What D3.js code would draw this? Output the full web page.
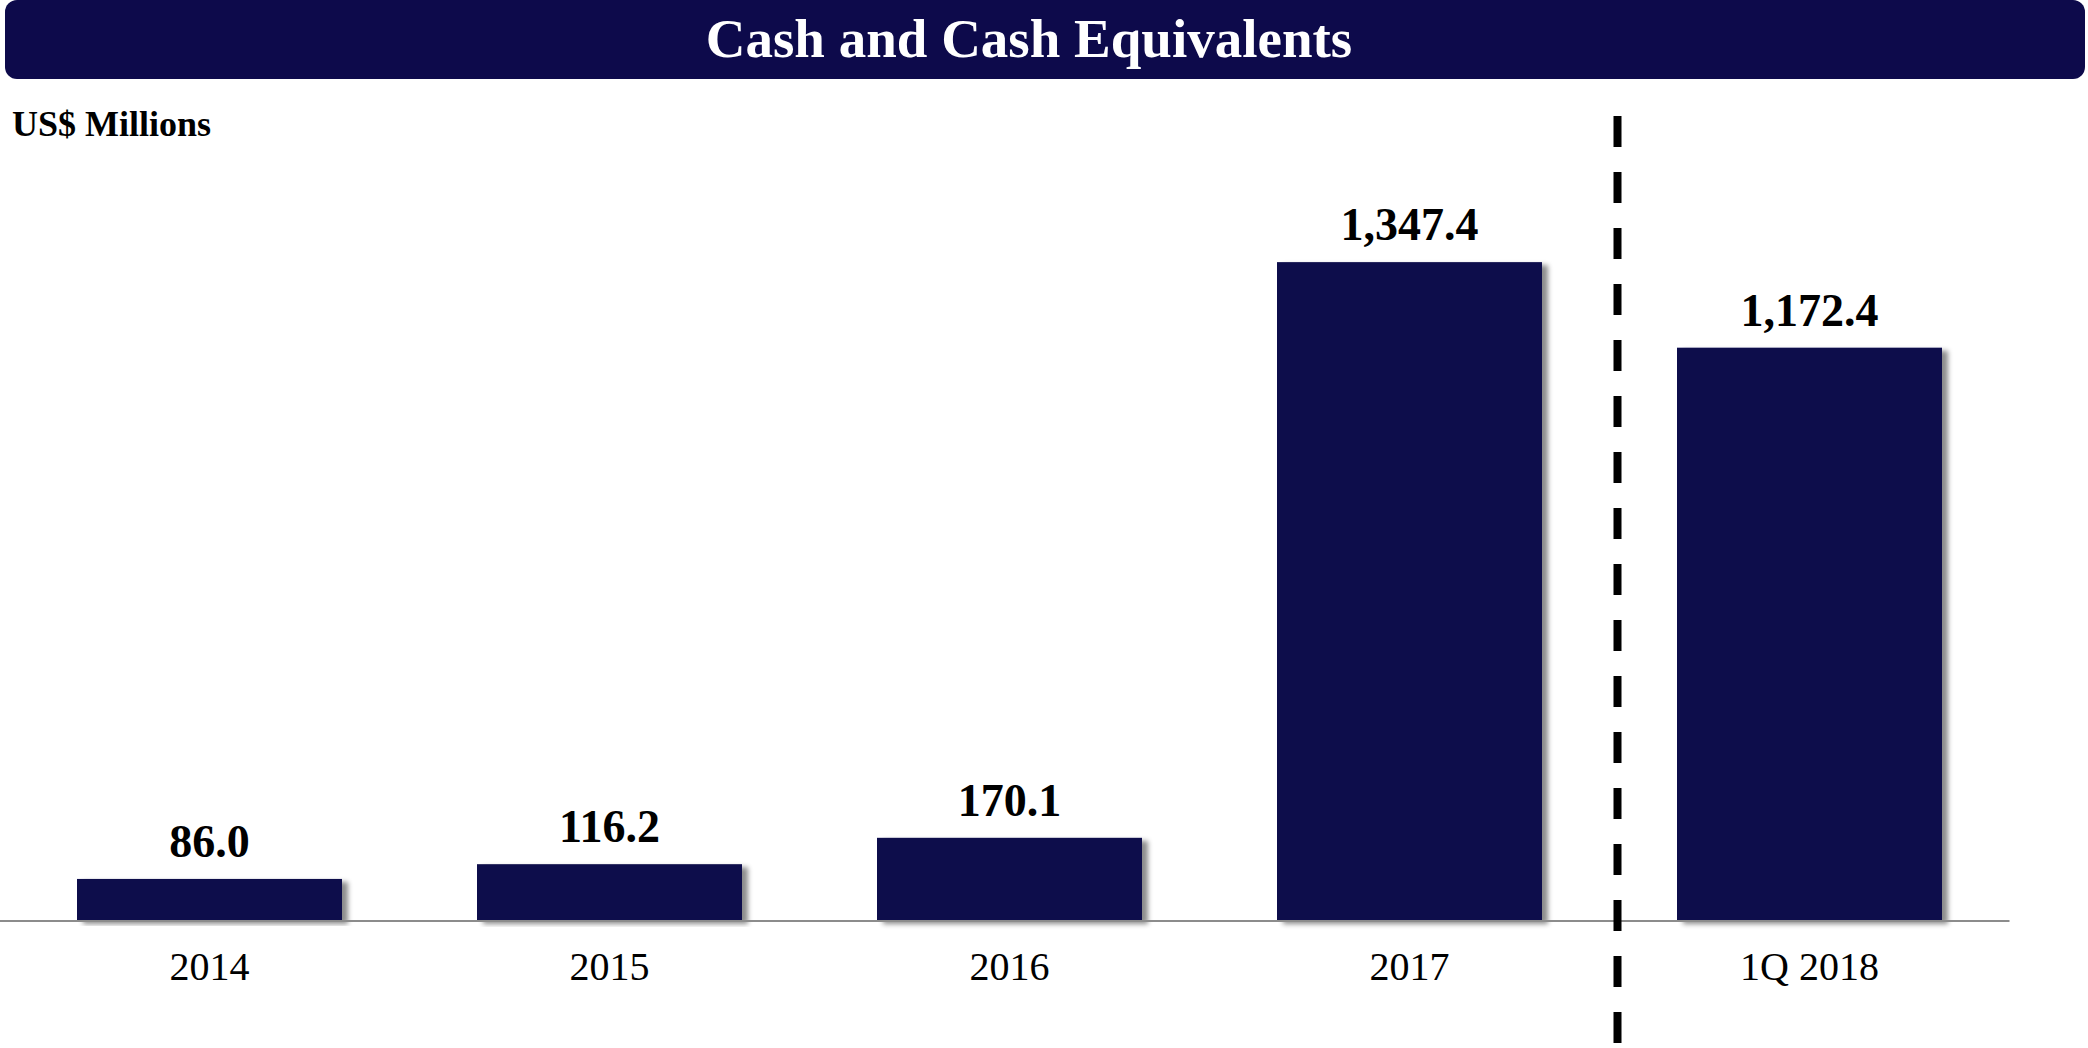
<!DOCTYPE html>
<html>
<head>
<meta charset="utf-8">
<script src="https://cdn.jsdelivr.net/npm/d3@7"></script>
<style>
  html, body { margin: 0; padding: 0; background: #fff; }
  svg { display: block; }
</style>
</head>
<body>
<svg id="chart" width="2088" height="1048"></svg>
<script>
// Cash and cash equivalents, US$ millions
const categories = ["2014", "2015", "2016", "2017", "1Q 2018"];
const cashValues = [86.0, 116.2, 170.1, 1347.4, 1172.4];
const valueLabels = ["86.0", "116.2", "170.1", "1,347.4", "1,172.4"];
const titleText = "Cash and Cash Equivalents";
const unitText = "US$ Millions";

const W = 2088, H = 1048;
const navy = "#0d0a4b";
const serif = "'Liberation Serif', 'Times New Roman', serif";

const svg = d3.select("#chart");

// soft shadow to the lower right of each bar
const defs = svg.append("defs");
const f = defs.append("filter").attr("id", "barShadow")
  .attr("x", "-5%").attr("y", "-5%").attr("width", "115%").attr("height", "115%");
f.append("feDropShadow").attr("dx", 6).attr("dy", 3).attr("stdDeviation", 2.5)
  .attr("flood-color", "#000").attr("flood-opacity", 0.45);

// title banner
svg.append("rect")
  .attr("x", 5).attr("y", 0).attr("width", 2080).attr("height", 79)
  .attr("rx", 12).attr("fill", navy);
svg.append("text")
  .attr("x", 1029).attr("y", 57)
  .attr("text-anchor", "middle")
  .attr("font-family", serif).attr("font-weight", "bold").attr("font-size", 55)
  .attr("fill", "#fff")
  .text(titleText);

// unit label
svg.append("text")
  .attr("x", 12).attr("y", 136)
  .attr("font-family", serif).attr("font-weight", "bold").attr("font-size", 36)
  .attr("fill", "#000")
  .text(unitText);

// scales
const x = d3.scaleBand()
  .domain(categories)
  .range([9.5, 2009.5])
  .paddingInner(0.3375)
  .paddingOuter(0.3375 / 2);

const y = d3.scaleLinear()
  .domain([0, 1600])
  .range([921, 138.6]);

// bars
svg.append("g").selectAll("rect")
  .data(categories)
  .join("rect")
  .attr("x", (d) => x(d))
  .attr("y", (d, i) => y(cashValues[i]))
  .attr("width", x.bandwidth())
  .attr("height", (d, i) => y(0) - y(cashValues[i]))
  .attr("fill", navy)
  .attr("filter", "url(#barShadow)");

// baseline axis
const axis = svg.append("g")
  .attr("transform", `translate(0,${y(0)})`)
  .call(d3.axisBottom(x).tickSize(0).tickPadding(47).tickSizeOuter(0));
axis.select(".domain")
  .attr("d", `M0,0H${x.range()[1]}`)
  .attr("stroke", "#8c8c8c").attr("stroke-width", 2);
axis.selectAll(".tick text")
  .attr("font-family", serif).attr("font-size", 40).attr("fill", "#000")
  .attr("dy", "0.3em");

// value labels
svg.append("g").selectAll("text")
  .data(categories)
  .join("text")
  .attr("x", (d) => x(d) + x.bandwidth() / 2)
  .attr("y", (d, i) => y(cashValues[i]) - 22)
  .attr("text-anchor", "middle")
  .attr("font-family", serif).attr("font-weight", "bold").attr("font-size", 46)
  .attr("fill", "#000")
  .text((d, i) => valueLabels[i]);

// dashed divider between annual and quarterly figures
const divX = (x("2017") + x.bandwidth() + x("1Q 2018")) / 2 + 8;
svg.append("line")
  .attr("x1", divX).attr("x2", divX)
  .attr("y1", 116).attr("y2", 1048)
  .attr("stroke", "#000").attr("stroke-width", 8)
  .attr("stroke-dasharray", "31 25");
</script>
</body>
</html>
